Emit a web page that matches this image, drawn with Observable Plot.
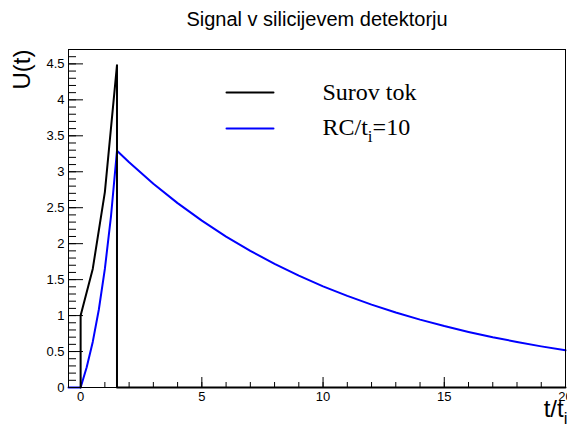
<!DOCTYPE html>
<html><head><meta charset="utf-8">
<script src="https://cdn.jsdelivr.net/npm/d3@7"></script>
<script src="https://cdn.jsdelivr.net/npm/@observablehq/plot@0.6"></script>
<style>html,body{margin:0;padding:0;background:#fff} svg{display:block}</style>
</head><body><div id="chart"></div>
<script>
// --- data ---
const title = "Signal v silicijevem detektorju";
const yTitle = "U(t)";
const xTitle = "t/t_i";
const seriesNames = ["Surov tok", "RC/t_i=10"];
const seriesColors = ["#000000", "#0000ff"];

// raw current ("Surov tok")
const rawX = [0, 0, 0.5, 1.0, 1.5, 1.5, 20];
const rawU = [0, 1.0, 1.649, 2.718, 4.482, 0, 0];

// signal after RC integration (RC/t_i = 10)
const rcX = [-0.5, 0, 0.25, 0.5, 0.75, 1.0, 1.25, 1.5,
             2, 3, 4, 5, 6, 7, 8, 9, 10, 11, 12, 13, 14, 15, 16, 17, 18, 19, 20];
const rcU = [0, 0, 0.281, 0.634, 1.081, 1.649, 2.371, 3.292,
             3.131, 2.833, 2.564, 2.320, 2.099, 1.900, 1.719, 1.555, 1.407, 1.274,
             1.152, 1.043, 0.944, 0.854, 0.773, 0.699, 0.633, 0.572, 0.518];

// tick values / labels
const xMajorTicks = [0, 5, 10, 15, 20];
const xMinorTicks = [0,1,2,3,4,5,6,7,8,9,10,11,12,13,14,15,16,17,18,19,20];
const yMajorTicks = [0, 0.5, 1, 1.5, 2, 2.5, 3, 3.5, 4, 4.5];
const yMinorTicks = d3.range(0, 47).map(i => i / 10);

// --- tables built from the arrays ---
const raw = rawX.map((x, i) => ({x, u: rawU[i]}));
const rc = rcX.map((x, i) => ({x, u: rcU[i]}));

const sans = "'Liberation Sans', Arial, Helvetica, sans-serif";
const serif = "'Liberation Serif', 'Times New Roman', serif";
const lineShape = {draw(ctx, l) { ctx.moveTo(0, 0); ctx.lineTo(0, -l); }};

const mL = 68, mR = 2, mT = 49, mB = 39;

const chart = Plot.plot({
  width: 567, height: 426,
  marginLeft: mL, marginRight: mR, marginTop: mT, marginBottom: mB,
  x: {domain: [-0.5, 20]},
  y: {domain: [0, 4.70]},
  style: {fontFamily: sans, background: "white", color: "black"},
  marks: [
    Plot.line(rc, {x: "x", y: "u", stroke: seriesColors[1], strokeWidth: 2}),
    Plot.line(raw, {x: "x", y: "u", stroke: seriesColors[0], strokeWidth: 2}),
    Plot.frame({stroke: "black", strokeWidth: 1}),
    // inward ticks
    Plot.axisY({ticks: yMinorTicks, tickSize: 8, dx: 8, text: null, label: null}),
    Plot.axisY({ticks: yMajorTicks, tickSize: 15, dx: 15, text: null, label: null}),
    Plot.axisX({ticks: xMinorTicks, tickSize: 5, dy: -5, text: null, label: null}),
    Plot.axisX({ticks: xMajorTicks, tickSize: 10, dy: -10, text: null, label: null}),
    // tick labels
    Plot.axisY({ticks: yMajorTicks, tickSize: 0, tickPadding: 4, fontSize: 13,
                tickFormat: d => String(d), label: null}),
    Plot.axisX({ticks: xMajorTicks, tickSize: 0, tickPadding: 4, fontSize: 13,
                tickFormat: d => String(d), label: null}),
    // titles
    Plot.text([title], {frameAnchor: "top", dy: -24, lineAnchor: "bottom", fontSize: 20}),
    Plot.text([yTitle], {frameAnchor: "top-left", dx: -46, rotate: -90, textAnchor: "end",
                         lineAnchor: "middle", fontSize: 24}),
    Plot.text([xTitle], {frameAnchor: "bottom-right", dx: 2, dy: 29, textAnchor: "end",
                         lineAnchor: "bottom", fontSize: 24}),
    // legend
    Plot.vector([0], {frameAnchor: "top-left", dx: 226 - mL, dy: 92 - mT, rotate: 90, length: 47,
                      anchor: "start", shape: lineShape, stroke: seriesColors[0], strokeWidth: 2}),
    Plot.vector([0], {frameAnchor: "top-left", dx: 226 - mL, dy: 128 - mT, rotate: 90, length: 47,
                      anchor: "start", shape: lineShape, stroke: seriesColors[1], strokeWidth: 2}),
    Plot.text([seriesNames[0]], {frameAnchor: "top-left", dx: 322 - mL, dy: 99 - mT, textAnchor: "start",
                                 lineAnchor: "bottom", fontSize: 24, fontFamily: serif}),
    Plot.text([seriesNames[1]], {frameAnchor: "top-left", dx: 322 - mL, dy: 134 - mT, textAnchor: "start",
                                 lineAnchor: "bottom", fontSize: 24, fontFamily: serif})
  ]
});

// turn "_i" into a real subscript
function subscriptify(svg) {
  svg.querySelectorAll("text").forEach(t => {
    const s = t.textContent;
    if (!s.includes("_")) return;
    const fs = parseFloat(t.getAttribute("font-size") || getComputedStyle(t).fontSize) || 24;
    const subFs = Math.round(fs * 0.7);
    const shift = Math.round(fs * 0.28);
    const idx = s.indexOf("_");
    const before = s.slice(0, idx), sub = s.slice(idx + 1, idx + 2), after = s.slice(idx + 2);
    while (t.firstChild) t.removeChild(t.firstChild);
    const ns = "http://www.w3.org/2000/svg";
    const a = document.createElementNS(ns, "tspan"); a.textContent = before; t.appendChild(a);
    const b = document.createElementNS(ns, "tspan"); b.textContent = sub;
    b.setAttribute("font-size", subFs); b.setAttribute("dy", shift); t.appendChild(b);
    if (after) {
      const c = document.createElementNS(ns, "tspan"); c.textContent = after;
      c.setAttribute("dy", -shift); t.appendChild(c);
    }
  });
}
subscriptify(chart);
document.getElementById("chart").appendChild(chart);
</script>
</body></html>
